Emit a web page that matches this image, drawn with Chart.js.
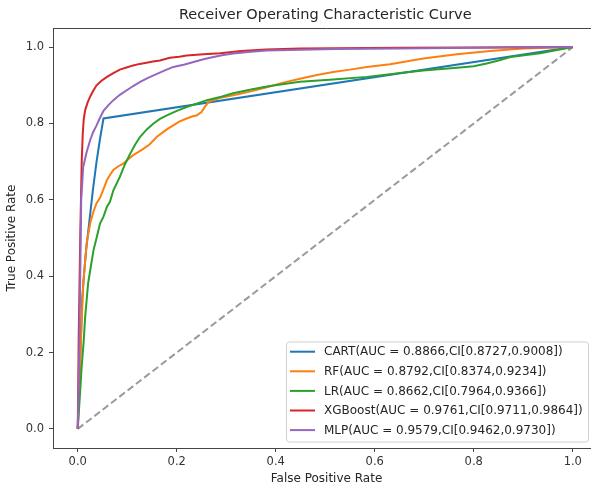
<!DOCTYPE html>
<html>
<head>
<meta charset="utf-8">
<script src="https://cdn.jsdelivr.net/npm/chart.js@4"></script>
<style>
  html, body { margin: 0; padding: 0; background: #fff; overflow: hidden; }
  #wrap { width: 591px; height: 488px; overflow: hidden; }
  canvas { display: block; }
</style>
</head>
<body>
<div id="wrap"><canvas id="roc" width="600" height="488"></canvas></div>
<script>
const xTicks = [0, 0.2, 0.4, 0.6, 0.8, 1.0];
const yTicks = [0, 0.2, 0.4, 0.6, 0.8, 1.0];

const cartLabel = 'CART(AUC = 0.8866,CI[0.8727,0.9008])';
const cartFpr = [0, 0.004, 0.009, 0.013, 0.017, 0.024, 0.031, 0.038, 0.045, 0.052, 1.0];
const cartTpr = [0, 0.15, 0.34, 0.41, 0.47, 0.55, 0.63, 0.70, 0.76, 0.813, 1.0];

const rfLabel = 'RF(AUC = 0.8792,CI[0.8374,0.9234])';
const rfFpr = [0, 0.004, 0.008, 0.011, 0.015, 0.018, 0.025, 0.032, 0.038, 0.045, 0.052, 0.059, 0.065, 0.072, 0.082, 0.092, 0.102, 0.112, 0.122, 0.133, 0.145, 0.160, 0.173, 0.183, 0.193, 0.205, 0.220, 0.232, 0.240, 0.250, 0.256, 0.264, 0.275, 0.288, 0.314, 0.35, 0.382, 0.415, 0.449, 0.483, 0.516, 0.55, 0.584, 0.631, 0.698, 0.766, 0.833, 0.900, 1.0];
const rfTpr = [0, 0.15, 0.28, 0.38, 0.44, 0.486, 0.538, 0.57, 0.591, 0.605, 0.628, 0.652, 0.665, 0.678, 0.688, 0.695, 0.706, 0.717, 0.725, 0.734, 0.745, 0.765, 0.778, 0.787, 0.795, 0.805, 0.813, 0.819, 0.821, 0.83, 0.842, 0.856, 0.862, 0.867, 0.874, 0.884, 0.895, 0.907, 0.917, 0.927, 0.935, 0.941, 0.948, 0.955, 0.970, 0.981, 0.990, 0.996, 1.0];

const lrLabel = 'LR(AUC = 0.8662,CI[0.7964,0.9366])';
const lrFpr = [0, 0.003, 0.008, 0.012, 0.015, 0.021, 0.027, 0.032, 0.038, 0.045, 0.052, 0.059, 0.065, 0.072, 0.085, 0.095, 0.106, 0.116, 0.126, 0.14, 0.153, 0.166, 0.180, 0.200, 0.220, 0.240, 0.261, 0.29, 0.314, 0.35, 0.382, 0.42, 0.449, 0.516, 0.584, 0.631, 0.651, 0.698, 0.766, 0.80, 0.826, 0.85, 0.874, 0.934, 1.0];
const lrTpr = [0, 0.06, 0.164, 0.23, 0.294, 0.382, 0.43, 0.469, 0.50, 0.538, 0.556, 0.582, 0.595, 0.625, 0.66, 0.692, 0.721, 0.745, 0.765, 0.785, 0.80, 0.812, 0.821, 0.833, 0.843, 0.852, 0.861, 0.87, 0.879, 0.889, 0.897, 0.904, 0.909, 0.915, 0.922, 0.929, 0.932, 0.939, 0.946, 0.950, 0.957, 0.965, 0.974, 0.984, 1.0];

const xgbLabel = 'XGBoost(AUC = 0.9761,CI[0.9711,0.9864])';
const xgbFpr = [0, 0.002, 0.005, 0.008, 0.010, 0.012, 0.015, 0.020, 0.025, 0.031, 0.038, 0.048, 0.059, 0.072, 0.085, 0.100, 0.112, 0.125, 0.139, 0.152, 0.166, 0.186, 0.205, 0.220, 0.254, 0.288, 0.33, 0.38, 0.45, 0.52, 0.65, 0.80, 1.0];
const xgbTpr = [0, 0.25, 0.50, 0.70, 0.77, 0.81, 0.835, 0.855, 0.870, 0.885, 0.90, 0.912, 0.922, 0.932, 0.941, 0.947, 0.952, 0.956, 0.959, 0.962, 0.965, 0.972, 0.975, 0.978, 0.981, 0.984, 0.990, 0.994, 0.996, 0.997, 0.998, 0.999, 1.0];

const mlpLabel = 'MLP(AUC = 0.9579,CI[0.9462,0.9730])';
const mlpFpr = [0, 0.003, 0.005, 0.007, 0.011, 0.018, 0.025, 0.031, 0.038, 0.045, 0.052, 0.062, 0.072, 0.085, 0.099, 0.112, 0.126, 0.143, 0.160, 0.176, 0.193, 0.214, 0.234, 0.254, 0.274, 0.294, 0.314, 0.35, 0.382, 0.45, 0.52, 0.65, 0.8, 1.0];
const mlpTpr = [0, 0.2, 0.4, 0.6, 0.686, 0.725, 0.756, 0.777, 0.795, 0.815, 0.833, 0.848, 0.861, 0.875, 0.887, 0.898, 0.909, 0.92, 0.930, 0.939, 0.948, 0.954, 0.961, 0.968, 0.974, 0.979, 0.983, 0.988, 0.991, 0.993, 0.995, 0.996, 0.998, 1.0];

const chanceFpr = [0, 1];
const chanceTpr = [0, 1];

const titleText = 'Receiver Operating Characteristic Curve';
const FONT = 'DejaVu Sans';

function pts(xs, ys) {
    return xs.map((x, i) => ({ x: x, y: ys[i] }));
}

function curve(label, xs, ys, color, order) {
    return {
        label: label,
        data: pts(xs, ys),
        borderColor: color,
        backgroundColor: color,
        borderWidth: 2,
        pointRadius: 0,
        tension: 0,
        fill: false,
        order: order
    };
}

// legend box inside the plot, lower right like matplotlib
const insideLegend = {
    id: 'insideLegend',
    afterDraw(chart) {
        const ctx = chart.ctx;
        const area = chart.chartArea;
        const items = chart.data.datasets.filter(d => !d.isChance);
        const w = 302, rowH = 19.6;
        const h = items.length * rowH + 2;
        const left = 286;
        const top = area.bottom - 6.5 - h;
        ctx.save();
        ctx.beginPath();
        ctx.roundRect(left + 0.5, top + 0.5, w, h, 3);
        ctx.fillStyle = 'rgba(255,255,255,0.8)';
        ctx.fill();
        ctx.strokeStyle = '#d0d0d0';
        ctx.lineWidth = 1;
        ctx.stroke();
        ctx.font = '12px "' + FONT + '"';
        ctx.textBaseline = 'middle';
        ctx.textAlign = 'left';
        items.forEach((d, i) => {
            const y = top + 10.2 + i * rowH;
            ctx.beginPath();
            ctx.moveTo(left + 4, y);
            ctx.lineTo(left + 29, y);
            ctx.strokeStyle = d.borderColor;
            ctx.lineWidth = 2;
            ctx.stroke();
            ctx.fillStyle = '#262626';
            ctx.fillText(d.label, left + 38, y + 0.5);
        });
        ctx.restore();
    }
};

// top spine and title centred over the axes (right spine falls outside the picture)
const frameTop = {
    id: 'frameTop',
    afterDraw(chart) {
        const ctx = chart.ctx;
        const a = chart.chartArea;
        ctx.save();
        ctx.strokeStyle = '#444';
        ctx.lineWidth = 1;
        ctx.beginPath();
        ctx.moveTo(a.left, Math.round(a.top) + 0.5);
        ctx.lineTo(a.right, Math.round(a.top) + 0.5);
        ctx.stroke();
        ctx.font = '14.5px "' + FONT + '"';
        ctx.fillStyle = '#262626';
        ctx.textAlign = 'center';
        ctx.textBaseline = 'middle';
        ctx.fillText(titleText, chart.scales.x.getPixelForValue(0.5), 15);
        ctx.restore();
    }
};

const chance = curve('chance', chanceFpr, chanceTpr, '#9a9a9a', 6);
chance.borderDash = [7, 3.5];
chance.isChance = true;

new Chart(document.getElementById('roc'), {
    type: 'line',
    data: {
        datasets: [
            curve(cartLabel, cartFpr, cartTpr, '#1f77b4', 5),
            curve(rfLabel, rfFpr, rfTpr, '#ff7f0e', 4),
            curve(lrLabel, lrFpr, lrTpr, '#2ca02c', 3),
            curve(xgbLabel, xgbFpr, xgbTpr, '#d62728', 2),
            curve(mlpLabel, mlpFpr, mlpTpr, '#9467bd', 1),
            chance
        ]
    },
    options: {
        responsive: false,
        animation: false,
        layout: { padding: { top: 28, left: 0, right: 0, bottom: 0 } },
        plugins: {
            legend: { display: false },
            tooltip: { enabled: false },
            title: { display: false }
        },
        scales: {
            x: {
                type: 'linear',
                min: -0.05,
                max: 1.055,
                afterBuildTicks: s => { s.ticks = xTicks.map(v => ({ value: v })); },
                afterFit: s => { s.height = 40; },
                ticks: {
                    callback: v => v.toFixed(1),
                    color: '#333',
                    font: { family: FONT, size: 11.5 },
                    padding: 3,
                    maxRotation: 0,
                    autoSkip: false
                },
                grid: { drawOnChartArea: false, drawTicks: true, tickLength: 4, color: '#444' },
                border: { display: true, color: '#444', width: 1 },
                title: {
                    display: true,
                    text: 'False Positive Rate',
                    color: '#262626',
                    font: { family: FONT, size: 12 },
                    padding: { top: 0, bottom: 1.8 }
                }
            },
            y: {
                type: 'linear',
                min: -0.05,
                max: 1.05,
                afterBuildTicks: s => { s.ticks = yTicks.map(v => ({ value: v })); },
                afterFit: s => { s.width = 53; },
                ticks: {
                    callback: v => v.toFixed(1),
                    color: '#333',
                    font: { family: FONT, size: 11.5 },
                    padding: 5,
                    autoSkip: false
                },
                grid: { drawOnChartArea: false, drawTicks: true, tickLength: 4, color: '#444' },
                border: { display: true, color: '#444', width: 1 },
                title: {
                    display: true,
                    text: 'True Positive Rate',
                    color: '#262626',
                    font: { family: FONT, size: 12 },
                    padding: { top: 5, bottom: 0 }
                }
            }
        }
    },
    plugins: [insideLegend, frameTop]
});
</script>
</body>
</html>
